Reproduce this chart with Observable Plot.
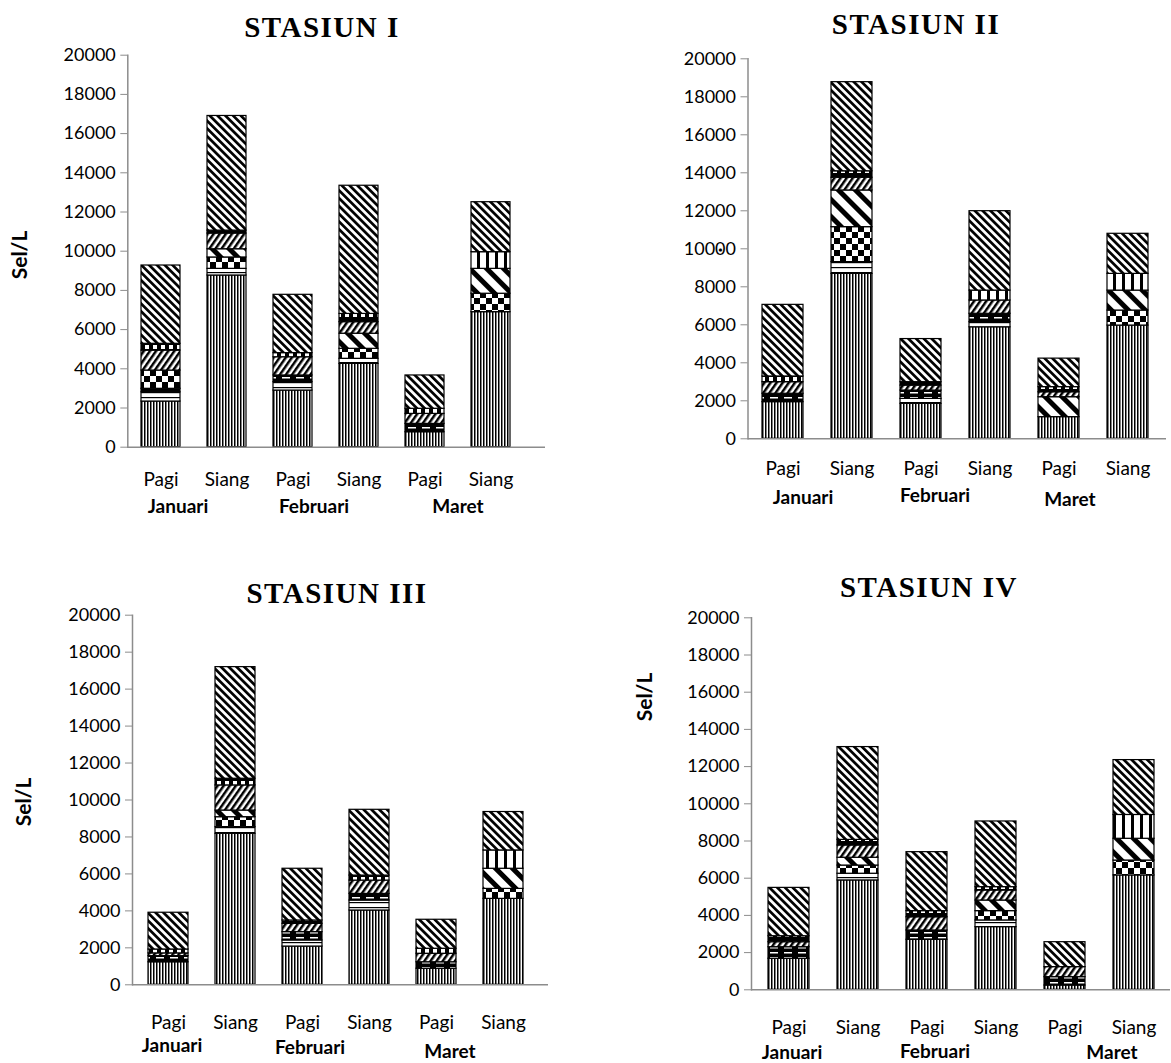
<!DOCTYPE html>
<html><head><meta charset="utf-8">
<script src="https://cdn.jsdelivr.net/npm/d3@7"></script>
<script src="https://cdn.jsdelivr.net/npm/@observablehq/plot@0.6"></script>
<style>
body{margin:0;background:#fff;width:1171px;height:1063px;position:relative;overflow:hidden;font-family:Lato,"Open Sans",sans-serif;color:#000}
.t{position:absolute;transform:translate(-50%,-50%);white-space:nowrap;line-height:1}
.title{font-family:"Liberation Serif",serif;font-weight:bold;font-size:29px;letter-spacing:1.5px}
.month{font-weight:bold;font-size:19px}
.ylab{font-weight:bold;font-size:21px;transform:translate(-50%,-50%) rotate(-90deg)}
.panel{position:absolute}
</style></head><body>
<svg width="0" height="0" style="position:absolute">
<defs>
<pattern id="p0" width="3" height="10" patternUnits="userSpaceOnUse"><rect width="3" height="10" fill="#fff"/><rect width="1.5" height="10" fill="#000"/></pattern>
<pattern id="p1" width="10" height="5" patternUnits="userSpaceOnUse"><rect width="10" height="5" fill="#fff"/><rect y="2" width="10" height="1.2" fill="#000"/></pattern>
<pattern id="p2" width="14" height="5" patternUnits="userSpaceOnUse"><rect width="14" height="5" fill="#000"/><rect x="2" y="2" width="8" height="1.5" fill="#fff"/></pattern>
<pattern id="p3" width="12" height="12" patternUnits="userSpaceOnUse"><rect width="12" height="12" fill="#fff"/><rect width="6" height="6" fill="#000"/><rect x="6" y="6" width="6" height="6" fill="#000"/></pattern>
<pattern id="p4" width="12" height="12" patternUnits="userSpaceOnUse" patternTransform="rotate(-45)"><rect width="12" height="12" fill="#fff"/><rect width="5" height="12" fill="#000"/></pattern>
<pattern id="p5" width="5" height="10" patternUnits="userSpaceOnUse" patternTransform="rotate(35)"><rect width="5" height="10" fill="#fff"/><rect width="2.5" height="10" fill="#000"/></pattern>
<pattern id="p6" width="8" height="8" patternUnits="userSpaceOnUse"><rect width="8" height="8" fill="#000"/><rect x="1" y="1" width="4" height="4" fill="#fff"/></pattern>
<pattern id="p7" width="9" height="10" patternUnits="userSpaceOnUse"><rect width="9" height="10" fill="#fff"/><rect width="3" height="10" fill="#000"/></pattern>
<pattern id="p8" width="5.5" height="10" patternUnits="userSpaceOnUse" patternTransform="rotate(-45)"><rect width="5.5" height="10" fill="#fff"/><rect width="2.7" height="10" fill="#000"/></pattern>
</defs>
</svg>
<script>
// ---- data ----
const categories = ["Januari|Pagi","Januari|Siang","Februari|Pagi","Februari|Siang","Maret|Pagi","Maret|Siang"];
const months = ["Januari","Februari","Maret"];
const times = ["Pagi","Siang"];
const yTicks = [0,2000,4000,6000,8000,10000,12000,14000,16000,18000,20000];
// series (bottom -> top) drawn with hatch patterns p0..p8
const seriesPatterns = ["p0","p1","p2","p3","p4","p5","p6","p7","p8"];
// each row: one bar (Jan Pagi, Jan Siang, Feb Pagi, Feb Siang, Mar Pagi, Mar Siang); columns: series values (sel/L)
const stasiunI = [
  [2330, 470, 180, 930, 0, 1020, 345, 0, 3995],
  [8760, 340, 0, 580, 420, 800, 150, 0, 5850],
  [2890, 430, 340, 0, 0, 930, 210, 0, 2975],
  [4250, 260, 0, 510, 770, 590, 420, 0, 6540],
  [765, 0, 425, 0, 0, 510, 260, 0, 1700],
  [6890, 0, 0, 940, 1270, 0, 0, 850, 2550]
];
const stasiunII = [
  [1930, 0, 440, 0, 0, 610, 300, 0, 3770],
  [8680, 620, 0, 1840, 1930, 670, 340, 0, 4690],
  [1840, 260, 440, 0, 0, 260, 180, 0, 2270],
  [5870, 270, 440, 0, 0, 700, 0, 520, 4180],
  [1140, 0, 0, 0, 1050, 260, 270, 0, 1500],
  [5960, 0, 0, 790, 1050, 0, 0, 880, 2110]
];
const stasiunIII = [
  [1220, 0, 330, 0, 0, 150, 210, 0, 1990],
  [8170, 360, 0, 540, 360, 1360, 360, 0, 6040],
  [2070, 330, 450, 0, 0, 450, 180, 0, 2800],
  [4020, 540, 360, 0, 0, 720, 270, 0, 3560],
  [870, 0, 350, 0, 0, 460, 270, 0, 1570],
  [4650, 0, 0, 540, 1090, 0, 0, 990, 2080]
];
const stasiunIV = [
  [1670, 0, 620, 0, 0, 270, 320, 0, 2600],
  [5880, 360, 0, 440, 420, 660, 300, 0, 4990],
  [2690, 0, 500, 0, 0, 710, 330, 0, 3170],
  [3370, 360, 0, 500, 570, 540, 180, 0, 3530],
  [230, 0, 450, 0, 0, 540, 0, 0, 1340],
  [6150, 0, 0, 800, 1170, 0, 0, 1280, 2950]
];

const panels = [
  {data: stasiunI, title: "STASIUN I", left: 0, top: 40, w: 560, h: 470, start: 127.3, end: 545, step: 66.3, yTop: 54.7, base: 446.7, lab: 33,
   titlePos: [322, 27], ylab: [18, 255, "Sel/L"], monthPos: [[178,505],[314,505],[458,505]]},
  {data: stasiunII, title: "STASIUN II", left: 600, top: 40, w: 571, h: 470, start: 747.5, end: 1166, step: 69, yTop: 58.3, base: 438.3, lab: 30,
   titlePos: [916, 24], ylab: [713, 250, "."], monthPos: [[803,496],[935,494],[1070,498]]},
  {data: stasiunIII, title: "STASIUN III", left: 0, top: 580, w: 560, h: 483, start: 132, end: 548, step: 67.8, yTop: 614.7, base: 984.3, lab: 38,
   titlePos: [337, 593], ylab: [22, 802, "Sel/L"], monthPos: [[172,1044],[310,1046],[450,1050]]},
  {data: stasiunIV, title: "STASIUN IV", left: 600, top: 580, w: 571, h: 483, start: 751, end: 1170, step: 69.8, yTop: 617.3, base: 989.3, lab: 38,
   titlePos: [929, 587], ylab: [643, 697, "Sel/L"], monthPos: [[792,1051],[935,1050],[1112,1051]]}
];

function addText(cls, x, y, txt) {
  const d = document.createElement("div");
  d.className = "t " + cls;
  d.style.left = x + "px"; d.style.top = y + "px";
  d.textContent = txt;
  document.body.appendChild(d);
}

for (const p of panels) {
  const table = [];
  p.data.forEach((bar, i) => bar.forEach((v, s) => { if (v > 0) table.push({cat: categories[i], s, v}); }));
  const L = p.end - p.start, pi = 0.41;
  const po = (L / p.step - 6 + pi) / 2;
  const align = (pi / 2 * p.step) / (L - p.step * (6 - pi));
  const chart = Plot.plot({
    width: p.w, height: p.h,
    marginLeft: p.start - p.left, marginRight: p.left + p.w - p.end,
    marginTop: p.yTop - p.top, marginBottom: p.h - (p.base - p.top),
    style: {fontFamily: "Lato, sans-serif", fontSize: "17px", color: "#000", background: "transparent"},
    x: {type: "band", domain: categories, paddingInner: pi, paddingOuter: po, align, axis: null},
    y: {domain: [0, 20000], axis: null},
    color: {type: "identity"},
    marks: [
      Plot.barY(table, {x: "cat", y: "v", fill: d => `url(#${seriesPatterns[d.s]})`, stroke: "#000", strokeWidth: 1.2}),
      Plot.frame({anchor: "left", stroke: "#8c8c8c", strokeWidth: 1.5}),
      Plot.ruleY([0], {stroke: "#8c8c8c", strokeWidth: 1.5}),
      Plot.axisY({ticks: yTicks, tickSize: 7, tickPadding: 5, stroke: "#8c8c8c", fill: "#000", fontSize: 18, label: null, tickFormat: d => String(d)}),
      Plot.text(categories, {x: d => d, text: d => d.split("|")[1], frameAnchor: "bottom", dy: p.lab, lineAnchor: "middle", fontSize: 19, fill: "#000"})
    ]
  });
  chart.classList.add("panel");
  chart.style.left = p.left + "px";
  chart.style.top = p.top + "px";
  document.body.appendChild(chart);
  addText("title", p.titlePos[0], p.titlePos[1], p.title);
  addText("ylab", p.ylab[0], p.ylab[1], p.ylab[2]);
  p.monthPos.forEach((m, i) => addText("month", m[0], m[1], months[i]));
}
</script>
</body></html>
